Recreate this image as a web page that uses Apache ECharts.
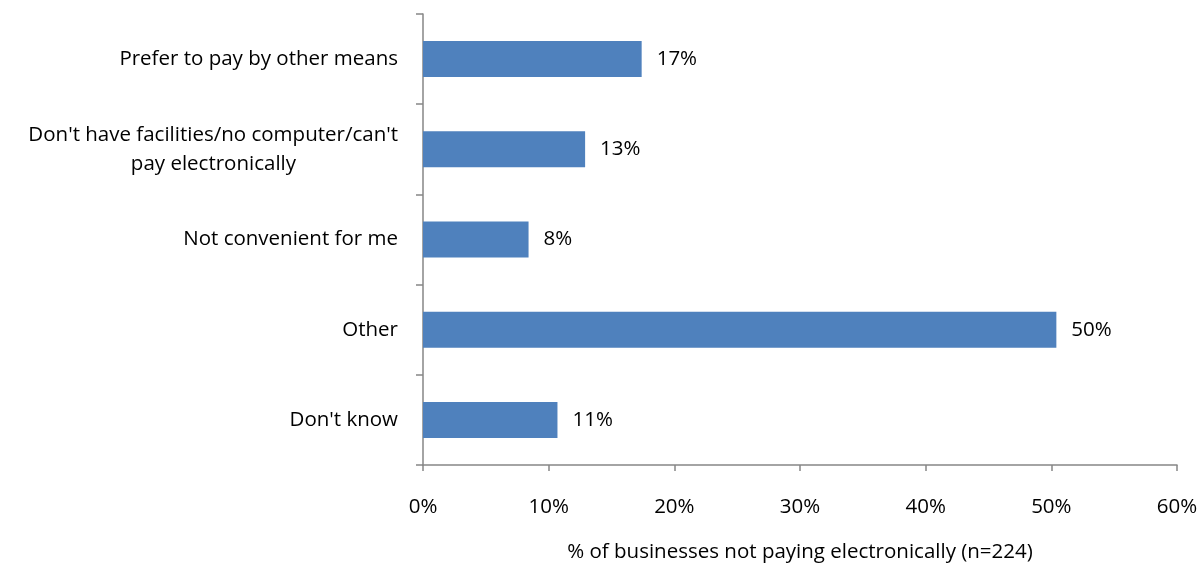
<!DOCTYPE html>
<html>
<head>
<meta charset="utf-8">
<script src="https://cdn.jsdelivr.net/npm/echarts@6/dist/echarts.min.js"></script>
<style>html,body{margin:0;padding:0;background:#fff}#c{width:1202px;height:564px}</style>
</head>
<body>
<div id="c"></div>
<script>
const categories = ["Prefer to pay by other means", "Don't have facilities/no computer/can't\npay electronically", "Not convenient for me", "Other", "Don't know"];
const values = [17.4, 12.9, 8.4, 50.4, 10.7];
const xTicks = [0, 10, 20, 30, 40, 50, 60];
const axisTitle = "% of businesses not paying electronically (n=224)";

const chart = echarts.init(document.getElementById('c'));
const font = '"Open Sans", sans-serif';
const fs = 20.5;
const ctx = document.createElement('canvas').getContext('2d');
ctx.font = fs + 'px ' + font;
function pad(a, b) { return Math.max(0, (ctx.measureText(a).width - ctx.measureText(b).width) / 2); }

chart.setOption({
  animation: false,
  grid: {left: 423, right: 25, top: 14, bottom: 99, containLabel: false, outerBoundsMode: 'none'},
  xAxis: {
    type: 'value', min: xTicks[0], max: xTicks[xTicks.length - 1], interval: 10,
    axisLine: {show: true, lineStyle: {color: '#868686', width: 1.5}},
    axisTick: {show: true, length: 6, lineStyle: {color: '#868686', width: 1.5}},
    splitLine: {show: false},
    axisLabel: {margin: 32, color: '#000', fontFamily: font, fontSize: fs, formatter: v => v + '%'},
    name: axisTitle, nameLocation: 'middle', nameGap: 77,
    nameTextStyle: {color: '#000', fontFamily: font, fontSize: fs}
  },
  yAxis: {
    type: 'category', data: categories, inverse: true,
    axisLine: {show: true, lineStyle: {color: '#868686', width: 1.5}},
    axisTick: {show: true, length: 7, lineStyle: {color: '#868686', width: 1.5}},
    axisLabel: {
      margin: 25, color: '#000', fontFamily: font, fontSize: fs, lineHeight: 29,
      formatter: function (v) {
        const parts = v.split('\n');
        if (parts.length > 1) {
          const p = Math.round(pad(parts[0], parts[1]));
          return parts[0] + '\n{b' + p + '|' + parts[1] + '}';
        }
        return v;
      },
      rich: (function () {
        const r = {};
        categories.forEach(c => {
          const parts = c.split('\n');
          if (parts.length > 1) {
            const p = Math.round(pad(parts[0], parts[1]));
            r['b' + p] = {fontFamily: font, fontSize: fs, color: '#000', lineHeight: 29, padding: [0, p, 0, 0]};
          }
        });
        return r;
      })()
    }
  },
  series: [{
    type: 'bar', data: values, barWidth: 36,
    itemStyle: {color: '#4F81BD'},
    label: {show: true, position: 'right', distance: 15, color: '#000', fontFamily: font, fontSize: fs,
      formatter: p => Math.round(p.value) + '%'}
  }]
});
</script>
</body>
</html>
